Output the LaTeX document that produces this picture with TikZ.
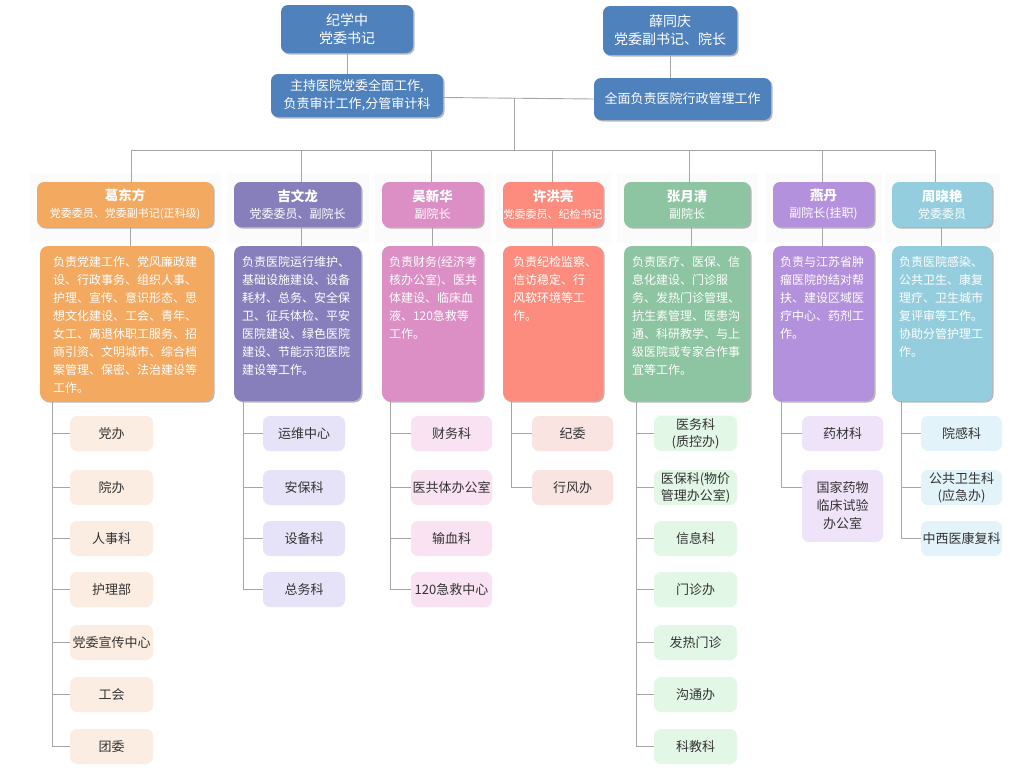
\documentclass[tikz,border=0pt]{standalone}
\usepackage{fontspec}
\setmainfont{Noto Sans CJK SC}
\usetikzlibrary{shadows}
\definecolor{topblue}{HTML}{4F81BD}
\definecolor{cA}{HTML}{F4A961}
\definecolor{cB}{HTML}{877FBC}
\definecolor{cC}{HTML}{DC8FC4}
\definecolor{cD}{HTML}{FD8C7E}
\definecolor{cE}{HTML}{8DC4A1}
\definecolor{cF}{HTML}{B491DC}
\definecolor{cG}{HTML}{94CEDE}
\definecolor{sA}{HTML}{FBEDE1}
\definecolor{sB}{HTML}{E6E3F8}
\definecolor{sC}{HTML}{F9E2F2}
\definecolor{sD}{HTML}{F9E4E2}
\definecolor{sE}{HTML}{E2F7E5}
\definecolor{sF}{HTML}{EEE3F8}
\definecolor{sG}{HTML}{E2F3FA}
\definecolor{linegray}{HTML}{A6A6A6}
\definecolor{txtgray}{HTML}{333333}
\begin{document}
\begin{tikzpicture}[x=1pt,y=-1pt,
  shad/.style={drop shadow={shadow xshift=1.5pt,shadow yshift=-1.5pt,opacity=.28,fill=black}},
  topbox/.style={shad,fill=topblue,rounded corners=7pt,inner sep=0pt,align=center,text=white},
  hdr/.style={shad,rounded corners=7pt,inner sep=0pt,align=center,text=white,minimum height=45pt,font=\fontsize{12}{17}\selectfont},
  descbox/.style={shad,rounded corners=8pt,inner sep=0pt,minimum height=155pt},
  dtext/.style={anchor=north west,inner sep=0pt,align=left,text=white,font=\fontsize{12}{18}\selectfont},
  sub/.style={rounded corners=7pt,inner sep=0pt,align=center,text=txtgray,minimum height=35pt,font=\fontsize{13}{17}\selectfont},
  faint/.style={fill=black!1.5,draw=none},
  conn/.style={draw=linegray,line width=0.9pt}]
\useasboundingbox (0,0) rectangle (1029,782);
\fill[white] (0,0) rectangle (1029,782);
% faint backgrounds behind headers
\fill[faint] (30,173) rectangle (221,243);
\fill[faint] (227,173) rectangle (369,243);
\fill[faint] (375,173) rectangle (491,243);
\fill[faint] (496,173) rectangle (611,243);
\fill[faint] (617,173) rectangle (758,243);
\fill[faint] (766,173) rectangle (882,243);
\fill[faint] (885,173) rectangle (1000,243);

% top level
\node[topbox,minimum width=132pt,minimum height=48pt,font=\fontsize{14}{18}\selectfont] (t1) at (347,29) {纪学中\\党委书记};
\node[topbox,minimum width=134pt,minimum height=49pt,font=\fontsize{14}{18}\selectfont] (t2) at (670,30.5) {薛同庆\\党委副书记、院长};
\node[topbox,minimum width=172pt,minimum height=43pt,font=\fontsize{13}{18}\selectfont] (u1) at (357,95.5) {主持医院党委全面工作,\\负责审计工作,分管审计科};
\node[topbox,minimum width=177pt,minimum height=42pt,font=\fontsize{13}{18}\selectfont] (u2) at (682.5,99) {全面负责医院行政管理工作};

% column headers
\node[hdr,fill=cA,minimum width=176pt] (h1) at (125,204.5) {{\fontsize{13.5}{17}\selectfont\bfseries 葛东方}\\{\fontsize{11}{15}\selectfont 党委委员、党委副书记(正科级)}};
\node[hdr,fill=cB,minimum width=127pt] (h2) at (297.5,204.5) {{\fontsize{13.5}{17}\selectfont\bfseries 吉文龙}\\党委委员、副院长};
\node[hdr,fill=cC,minimum width=101pt] (h3) at (432.5,204.5) {{\fontsize{13.5}{17}\selectfont\bfseries 吴新华}\\副院长};
\node[hdr,fill=cD,minimum width=100pt] (h4) at (553,204.5) {{\fontsize{13.5}{17}\selectfont\bfseries 许洪亮}\\{\fontsize{11}{15}\selectfont 党委委员、纪检书记}};
\node[hdr,fill=cE,minimum width=126pt] (h5) at (687,204.5) {{\fontsize{13.5}{17}\selectfont\bfseries 张月清}\\副院长};
\node[hdr,fill=cF,minimum width=101pt] (h6) at (823.5,204.5) {{\fontsize{13.5}{17}\selectfont\bfseries 燕丹}\\副院长(挂职)};
\node[hdr,fill=cG,minimum width=100pt] (h7) at (942,204.5) {{\fontsize{13.5}{17}\selectfont\bfseries 周晓艳}\\党委委员};

% description boxes
\node[descbox,fill=cA,minimum width=173pt] (d1) at (126.5,323.5) {};
\node[descbox,fill=cB,minimum width=127pt] (d2) at (297.5,323.5) {};
\node[descbox,fill=cC,minimum width=101pt] (d3) at (432.5,323.5) {};
\node[descbox,fill=cD,minimum width=100pt] (d4) at (553,323.5) {};
\node[descbox,fill=cE,minimum width=126pt] (d5) at (687,323.5) {};
\node[descbox,fill=cF,minimum width=101pt] (d6) at (823.5,323.5) {};
\node[descbox,fill=cG,minimum width=100pt] (d7) at (942,323.5) {};

\node[dtext] (d1t) at ([xshift=13pt,yshift=-10pt]d1.north west) {负责党建工作、党风廉政建\\设、行政事务、组织人事、\\护理、宣传、意识形态、思\\想文化建设、工会、青年、\\女工、离退休职工服务、招\\商引资、文明城市、综合档\\案管理、保密、法治建设等\\工作。};
\node[dtext] (d2t) at ([xshift=8pt,yshift=-10pt]d2.north west) {负责医院运行维护、\\基础设施建设、设备\\耗材、总务、安全保\\卫、征兵体检、平安\\医院建设、绿色医院\\建设、节能示范医院\\建设等工作。};
\node[dtext] (d3t) at ([xshift=7pt,yshift=-10pt]d3.north west) {负责财务(经济考\\核办公室)、医共\\体建设、临床血\\液、120急救等\\工作。};
\node[dtext] (d4t) at ([xshift=10pt,yshift=-10pt]d4.north west) {负责纪检监察、\\信访稳定、行\\风软环境等工\\作。};
\node[dtext] (d5t) at ([xshift=8pt,yshift=-10pt]d5.north west) {负责医疗、医保、信\\息化建设、门诊服\\务、发热门诊管理、\\抗生素管理、医患沟\\通、科研教学、与上\\级医院或专家合作事\\宜等工作。};
\node[dtext] (d6t) at ([xshift=7pt,yshift=-10pt]d6.north west) {负责与江苏省肿\\瘤医院的结对帮\\扶、建设区域医\\疗中心、药剂工\\作。};
\node[dtext] (d7t) at ([xshift=7pt,yshift=-10pt]d7.north west) {负责医院感染、\\公共卫生、康复\\理疗、卫生城市\\复评审等工作。\\协助分管护理工\\作。};

% sub departments
\node[sub,fill=sA,minimum width=83pt] (s11) at (111.5,433.5) {党办};
\node[sub,fill=sA,minimum width=83pt] (s12) at (111.5,487.5) {院办};
\node[sub,fill=sA,minimum width=83pt] (s13) at (111.5,538.5) {人事科};
\node[sub,fill=sA,minimum width=83pt] (s14) at (111.5,589.5) {护理部};
\node[sub,fill=sA,minimum width=83pt] (s15) at (111.5,642.5) {党委宣传中心};
\node[sub,fill=sA,minimum width=83pt] (s16) at (111.5,694.5) {工会};
\node[sub,fill=sA,minimum width=83pt] (s17) at (111.5,746.5) {团委};

\node[sub,fill=sB,minimum width=82pt] (s21) at (304,433.5) {运维中心};
\node[sub,fill=sB,minimum width=82pt] (s22) at (304,487.5) {安保科};
\node[sub,fill=sB,minimum width=82pt] (s23) at (304,538.5) {设备科};
\node[sub,fill=sB,minimum width=82pt] (s24) at (304,589.5) {总务科};

\node[sub,fill=sC,minimum width=81pt] (s31) at (451.5,433.5) {财务科};
\node[sub,fill=sC,minimum width=81pt] (s32) at (451.5,487.5) {医共体办公室};
\node[sub,fill=sC,minimum width=81pt] (s33) at (451.5,538.5) {输血科};
\node[sub,fill=sC,minimum width=81pt] (s34) at (451.5,589.5) {120急救中心};

\node[sub,fill=sD,minimum width=81pt] (s41) at (572.5,433.5) {纪委};
\node[sub,fill=sD,minimum width=81pt] (s42) at (572.5,487.5) {行风办};

\node[sub,fill=sE,minimum width=83pt] (s51) at (695.5,433.5) {医务科\\(质控办)};
\node[sub,fill=sE,minimum width=83pt] (s52) at (695.5,487.5) {医保科(物价\\管理办公室)};
\node[sub,fill=sE,minimum width=83pt] (s53) at (695.5,538.5) {信息科};
\node[sub,fill=sE,minimum width=83pt] (s54) at (695.5,589.5) {门诊办};
\node[sub,fill=sE,minimum width=83pt] (s55) at (695.5,642.5) {发热门诊};
\node[sub,fill=sE,minimum width=83pt] (s56) at (695.5,694.5) {沟通办};
\node[sub,fill=sE,minimum width=83pt] (s57) at (695.5,746.5) {科教科};

\node[sub,fill=sF,minimum width=81pt] (s61) at (842.5,433.5) {药材科};
\node[sub,fill=sF,minimum width=81pt,minimum height=72pt,font=\fontsize{13}{18}\selectfont] (s62) at (842.5,506) {国家药物\\临床试验\\办公室};

\node[sub,fill=sG,minimum width=81pt] (s71) at (961.5,433.5) {院感科};
\node[sub,fill=sG,minimum width=81pt] (s72) at (961.5,487.5) {公共卫生科\\(应急办)};
\node[sub,fill=sG,minimum width=81pt] (s73) at (961.5,538.5) {中西医康复科};

% connectors top
\draw[conn] (t1.south) -- (t1.south |- u1.north);
\draw[conn] (t2.south) -- (t2.south |- u2.north);
\draw[conn] ([yshift=-2pt]u1.east) -- (u2.west);
\coordinate (hub) at (514,98);
\coordinate (b1) at (131,150);
\coordinate (b2) at (301,150);
\coordinate (b3) at (431,150);
\coordinate (b4) at (552,150);
\coordinate (b5) at (689,150);
\coordinate (b6) at (822,150);
\coordinate (b7) at (935,150);
\draw[conn] (hub) -- (hub |- b1);
\draw[conn] (b1) -- (b7);
\foreach \i in {1,...,7} {\draw[conn] (b\i) -- (b\i |- h\i.north);}
% header to description
\draw[conn] ([xshift=5pt]h1.south) -- ([xshift=5pt]h1.south |- d1.north);
\draw[conn] ([xshift=3.5pt]h2.south) -- ([xshift=3.5pt]h2.south |- d2.north);
\draw[conn] (h3.south) -- (h3.south |- d3.north);
\draw[conn] ([xshift=-1pt]h4.south) -- ([xshift=-1pt]h4.south |- d4.north);
\draw[conn] ([xshift=4pt]h5.south) -- ([xshift=4pt]h5.south |- d5.north);
\draw[conn] ([xshift=-1.5pt]h6.south) -- ([xshift=-1.5pt]h6.south |- d6.north);
\draw[conn] ([xshift=-1pt]h7.south) -- ([xshift=-1pt]h7.south |- d7.north);
% description to sub departments
\coordinate (v1) at ([xshift=13pt]d1.south west);
\coordinate (v2) at ([xshift=10pt]d2.south west);
\coordinate (v3) at ([xshift=9pt]d3.south west);
\coordinate (v4) at ([xshift=9pt]d4.south west);
\coordinate (v5) at ([xshift=13pt]d5.south west);
\coordinate (v6) at ([xshift=9pt]d6.south west);
\coordinate (v7) at ([xshift=10pt]d7.south west);
\foreach \j in {1,...,7} {\draw[conn] (v1) |- (s1\j.west);}
\foreach \j in {1,...,4} {\draw[conn] (v2) |- (s2\j.west);}
\foreach \j in {1,...,4} {\draw[conn] (v3) |- (s3\j.west);}
\foreach \j in {1,2} {\draw[conn] (v4) |- (s4\j.west);}
\foreach \j in {1,...,7} {\draw[conn] (v5) |- (s5\j.west);}
\draw[conn] (v6) |- (s61.west);
\draw[conn] (v6) |- ([yshift=19pt]s62.west);
\foreach \j in {1,2,3} {\draw[conn] (v7) |- (s7\j.west);}
\end{tikzpicture}
\end{document}
